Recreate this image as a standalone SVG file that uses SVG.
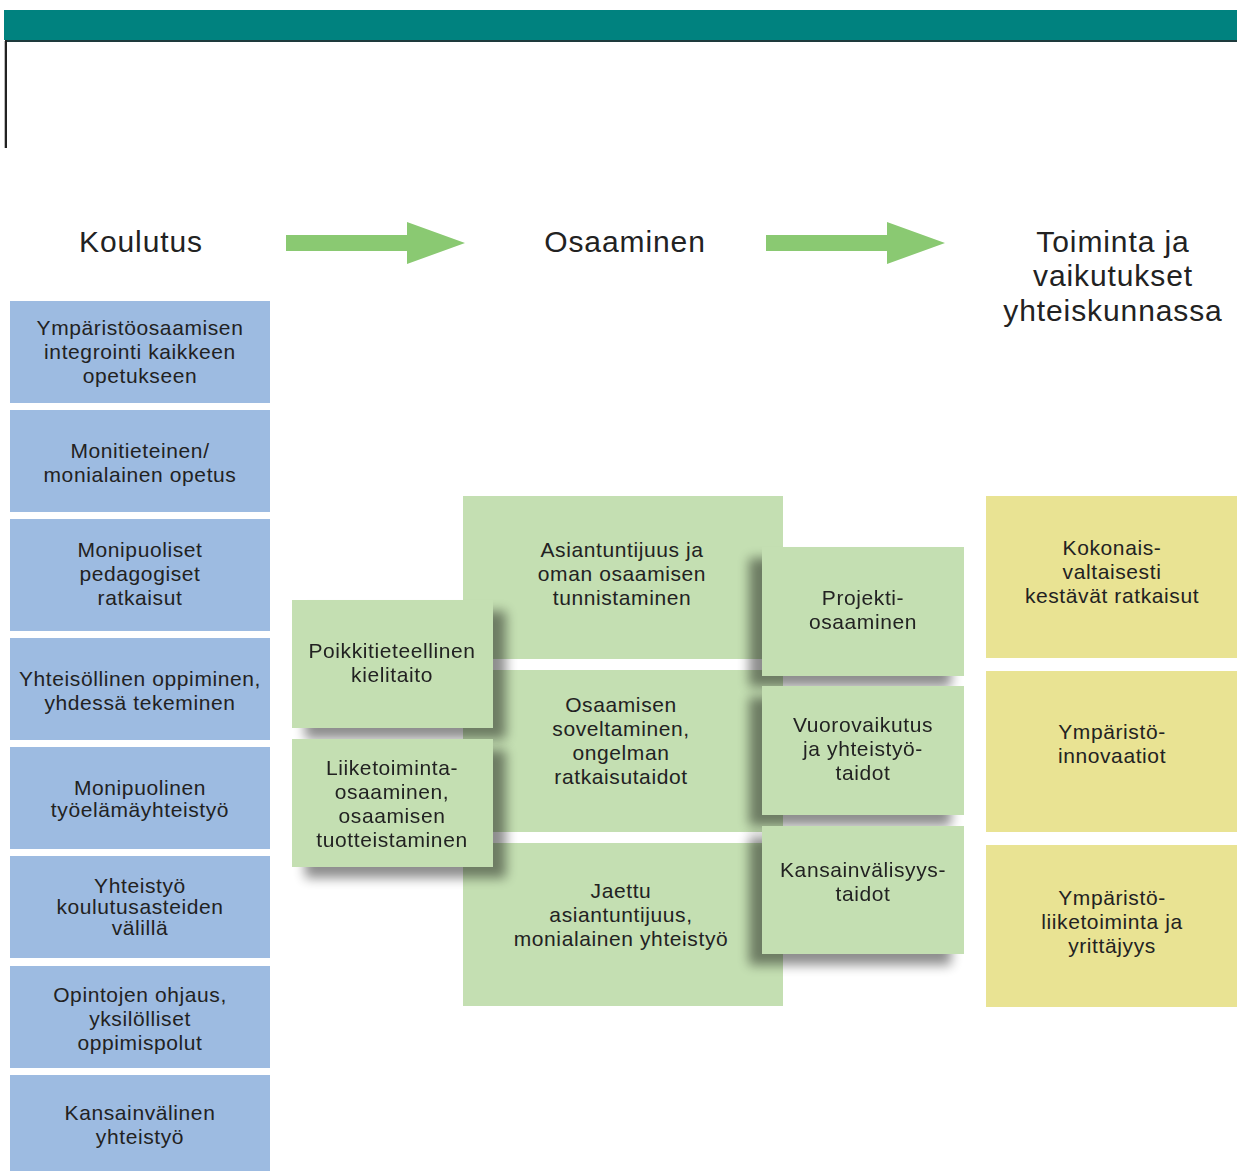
<svg xmlns="http://www.w3.org/2000/svg" width="1237" height="1171" viewBox="0 0 1237 1171">
<defs>
<style>
.t{font-family:"Liberation Sans",Arial,sans-serif;font-size:21px;letter-spacing:0.6px;fill:#222;text-anchor:middle}
.h{font-family:"Liberation Sans",Arial,sans-serif;font-size:30px;letter-spacing:0.9px;fill:#222;text-anchor:middle}
.blue{fill:#9DBBE1}
.green{fill:#C4DFB2}
.yellow{fill:#E9E393}
.arrow{fill:#8AC972}
</style>
<filter id="shR" x="-20%" y="-20%" width="150%" height="150%">
<feGaussianBlur in="SourceAlpha" stdDeviation="6"/>
<feOffset dx="13" dy="11" result="o"/>
<feComponentTransfer><feFuncA type="linear" slope="0.45"/></feComponentTransfer>
<feMerge><feMergeNode/><feMergeNode in="SourceGraphic"/></feMerge>
</filter>
<filter id="shL" x="-30%" y="-20%" width="150%" height="150%">
<feGaussianBlur in="SourceAlpha" stdDeviation="6"/>
<feOffset dx="-13" dy="11" result="o"/>
<feComponentTransfer><feFuncA type="linear" slope="0.45"/></feComponentTransfer>
<feMerge><feMergeNode/><feMergeNode in="SourceGraphic"/></feMerge>
</filter>
</defs>
<rect width="1237" height="1171" fill="#fff"/>
<g id="header-bar">
<rect x="4" y="10" width="1233" height="30" fill="#00827F"/>
<rect x="5" y="40" width="1232" height="2" fill="#1E3A3C"/>
<rect x="4" y="41" width="1" height="107" fill="#bbb"/>
<rect x="5" y="40" width="2" height="108" fill="#222"/>
</g>
<g id="titles">
<text class="h" x="141" y="252">Koulutus</text>
<text class="h" x="625" y="252">Osaaminen</text>
<text class="h" x="1113" y="252">Toiminta ja</text>
<text class="h" x="1113" y="286">vaikutukset</text>
<text class="h" x="1113" y="321">yhteiskunnassa</text>
</g>
<g id="connectors">
<polygon class="arrow" points="286,235 407,235 407,222 465,243 407,264 407,251 286,251"/>
<polygon class="arrow" points="766,235 887,235 887,222 945,243 887,264 887,251 766,251"/>
</g>
<g id="b1"><rect class="blue" x="10" y="301" width="260" height="102"/>
<text class="t" x="140" y="335">Ympäristöosaamisen</text><text class="t" x="140" y="359">integrointi kaikkeen</text><text class="t" x="140" y="383">opetukseen</text></g>
<g id="b2"><rect class="blue" x="10" y="410" width="260" height="102"/>
<text class="t" x="140" y="458">Monitieteinen/</text><text class="t" x="140" y="482">monialainen opetus</text></g>
<g id="b3"><rect class="blue" x="10" y="519" width="260" height="112"/>
<text class="t" x="140" y="557">Monipuoliset</text><text class="t" x="140" y="581">pedagogiset</text><text class="t" x="140" y="605">ratkaisut</text></g>
<g id="b4"><rect class="blue" x="10" y="638" width="260" height="102"/>
<text class="t" x="140" y="686">Yhteisöllinen oppiminen,</text><text class="t" x="140" y="710">yhdessä tekeminen</text></g>
<g id="b5"><rect class="blue" x="10" y="747" width="260" height="102"/>
<text class="t" x="140" y="795">Monipuolinen</text><text class="t" x="140" y="817">työelämäyhteistyö</text></g>
<g id="b6"><rect class="blue" x="10" y="856" width="260" height="102"/>
<text class="t" x="140" y="893">Yhteistyö</text><text class="t" x="140" y="914">koulutusasteiden</text><text class="t" x="140" y="935">välillä</text></g>
<g id="b7"><rect class="blue" x="10" y="966" width="260" height="102"/>
<text class="t" x="140" y="1002">Opintojen ohjaus,</text><text class="t" x="140" y="1026">yksilölliset</text><text class="t" x="140" y="1050">oppimispolut</text></g>
<g id="b8"><rect class="blue" x="10" y="1075" width="260" height="96"/>
<text class="t" x="140" y="1120">Kansainvälinen</text><text class="t" x="140" y="1144">yhteistyö</text></g>
<g id="m1"><rect class="green" x="463" y="496" width="320" height="163"/>
<text class="t" x="622" y="557">Asiantuntijuus ja</text><text class="t" x="622" y="581">oman osaamisen</text><text class="t" x="622" y="605">tunnistaminen</text></g>
<g id="m2"><rect class="green" x="463" y="670" width="320" height="162"/>
<text class="t" x="621" y="712">Osaamisen</text><text class="t" x="621" y="736">soveltaminen,</text><text class="t" x="621" y="760">ongelman</text><text class="t" x="621" y="784">ratkaisutaidot</text></g>
<g id="m3"><rect class="green" x="463" y="843" width="320" height="163"/>
<text class="t" x="621" y="898">Jaettu</text><text class="t" x="621" y="922">asiantuntijuus,</text><text class="t" x="621" y="946">monialainen yhteistyö</text></g>
<g id="l1" filter="url(#shR)"><rect class="green" x="292" y="600" width="201" height="128"/>
<text class="t" x="392" y="658">Poikkitieteellinen</text><text class="t" x="392" y="682">kielitaito</text></g>
<g id="l2" filter="url(#shR)"><rect class="green" x="292" y="739" width="201" height="128"/>
<text class="t" x="392" y="775">Liiketoiminta-</text><text class="t" x="392" y="799">osaaminen,</text><text class="t" x="392" y="823">osaamisen</text><text class="t" x="392" y="847">tuotteistaminen</text></g>
<g id="r1" filter="url(#shL)"><rect class="green" x="762" y="547" width="202" height="129"/>
<text class="t" x="863" y="605">Projekti-</text><text class="t" x="863" y="629">osaaminen</text></g>
<g id="r2" filter="url(#shL)"><rect class="green" x="762" y="686" width="202" height="129"/>
<text class="t" x="863" y="732">Vuorovaikutus</text><text class="t" x="863" y="756">ja yhteistyö-</text><text class="t" x="863" y="780">taidot</text></g>
<g id="r3" filter="url(#shL)"><rect class="green" x="762" y="826" width="202" height="128"/>
<text class="t" x="863" y="877">Kansainvälisyys-</text><text class="t" x="863" y="901">taidot</text></g>
<g id="y1"><rect class="yellow" x="986" y="496" width="251" height="162"/>
<text class="t" x="1112" y="555">Kokonais-</text><text class="t" x="1112" y="579">valtaisesti</text><text class="t" x="1112" y="603">kestävät ratkaisut</text></g>
<g id="y2"><rect class="yellow" x="986" y="671" width="251" height="161"/>
<text class="t" x="1112" y="739">Ympäristö-</text><text class="t" x="1112" y="763">innovaatiot</text></g>
<g id="y3"><rect class="yellow" x="986" y="845" width="251" height="162"/>
<text class="t" x="1112" y="905">Ympäristö-</text><text class="t" x="1112" y="929">liiketoiminta ja</text><text class="t" x="1112" y="953">yrittäjyys</text></g>
</svg>
